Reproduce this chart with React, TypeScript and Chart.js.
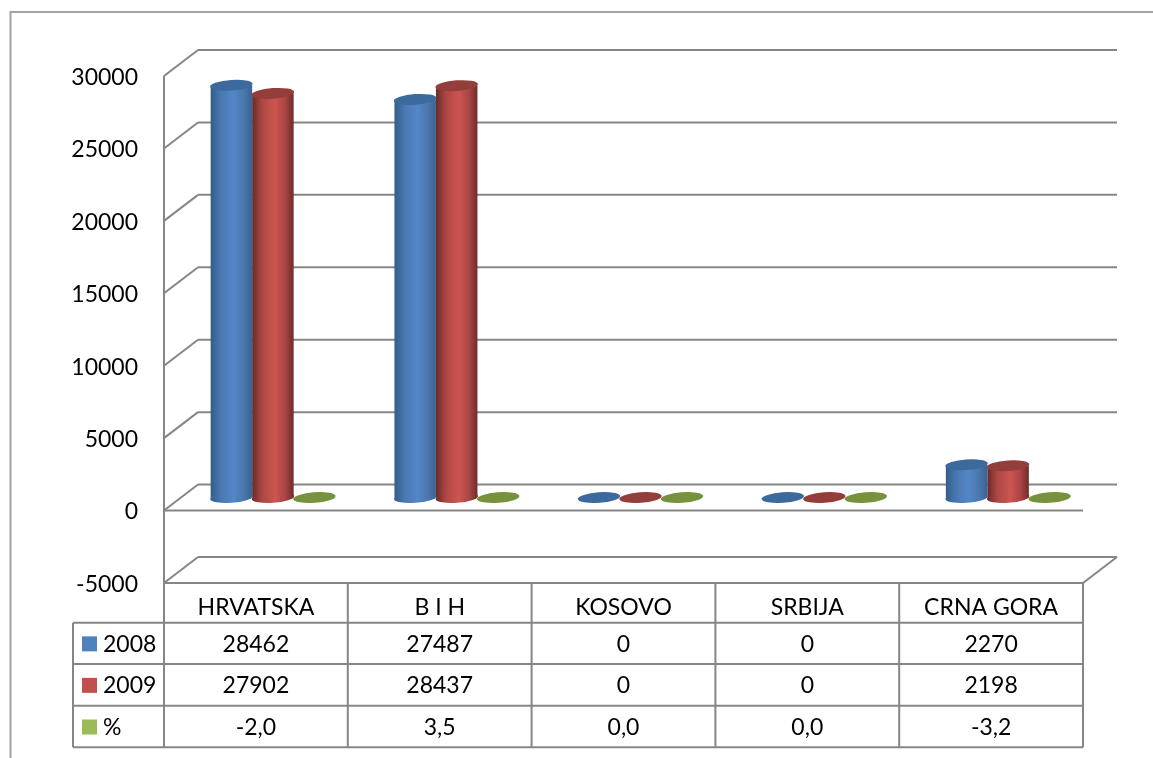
import React, { useEffect, useRef } from "react";
import { Chart, registerables } from "chart.js";

Chart.register(...registerables);

const categories = ["HRVATSKA", "B I H", "KOSOVO", "SRBIJA", "CRNA GORA"];
const values2008 = [28462, 27487, 0, 0, 2270];
const values2009 = [27902, 28437, 0, 0, 2198];
const valuesPct = [-2.0, 3.5, 0.0, 0.0, -3.2];
const seriesNames = ["2008", "2009", "%"];

const FONT = "Lato";
const TEXT_SIZE = 23;
const LINE = "#868686";
const DEPTH_X = 34;
const DEPTH_Y = -26;
const BAR_W = 41.5;

const swatch = ["#4f81bd", "#c0504d", "#9bbb59"];
const topColor = ["#3d6a9c", "#943e3b", "#76923c"];
const bodyStops: [number, string][][] = [
  [[0, "#335c8b"], [0.25, "#4a78b0"], [0.55, "#5487c8"], [0.8, "#4a76ad"], [1, "#3a6392"]],
  [[0, "#6b2a28"], [0.25, "#ae4845"], [0.55, "#cd5551"], [0.8, "#a84543"], [1, "#6e2c2a"]],
  [[0, "#5c7330"], [0.25, "#86a74c"], [0.55, "#9fc05c"], [0.8, "#86a74c"], [1, "#5c7330"]],
];

function bodyGradient(ctx: CanvasRenderingContext2D, x0: number, x1: number, series: number) {
  const g = ctx.createLinearGradient(x0, 0, x1, 0);
  bodyStops[series].forEach(([o, c]) => g.addColorStop(o, c));
  return g;
}

function line(ctx: CanvasRenderingContext2D, x0: number, y0: number, x1: number, y1: number) {
  ctx.beginPath();
  ctx.moveTo(x0, y0);
  ctx.lineTo(x1, y1);
  ctx.stroke();
}

const cylinderPlugin = {
  id: "cylinder3d",
  beforeDraw(chart: any) {
    const { ctx, width, height, chartArea, scales } = chart;
    const { left, right, bottom } = chartArea;
    const y = scales.y;
    ctx.save();
    ctx.fillStyle = "#ffffff";
    ctx.fillRect(0, 0, width, height);
    // outer chart frame
    ctx.strokeStyle = "#a3a3a3";
    ctx.lineWidth = 2;
    ctx.beginPath();
    ctx.moveTo(10.5, height);
    ctx.lineTo(10.5, 12);
    ctx.lineTo(width, 12);
    ctx.stroke();
    // walls and grid
    ctx.strokeStyle = LINE;
    ctx.lineWidth = 2;
    y.ticks.forEach((t: any) => {
      const py = y.getPixelForValue(t.value);
      line(ctx, left, py, left + DEPTH_X, py + DEPTH_Y);
      line(ctx, left + DEPTH_X, py + DEPTH_Y, right + DEPTH_X, py + DEPTH_Y);
    });
    line(ctx, left, y.getPixelForValue(30000), left, bottom);
    const zero = y.getPixelForValue(0);
    line(ctx, left, zero, right, zero);
    line(ctx, left, bottom, right, bottom);
    line(ctx, right, bottom, right + DEPTH_X, bottom + DEPTH_Y);
    ctx.restore();
  },
  beforeDatasetDraw(chart: any) {
    chart.ctx.save();
    chart.ctx.translate(DEPTH_X / 2, DEPTH_Y / 2);
  },
  afterDatasetDraw(chart: any) {
    chart.ctx.restore();
  },
  afterDatasetsDraw(chart: any) {
    const ctx = chart.ctx;
    const tilt = -0.07;
    ctx.save();
    ctx.translate(DEPTH_X / 2, DEPTH_Y / 2);
    for (let series = 0; series < 3; series++) {
      chart.getDatasetMeta(series).data.forEach((bar: any) => {
        const h = Math.abs(bar.base - bar.y);
        const rx = bar.width / 2 + 0.5;
        if (h > 2) {
          ctx.fillStyle = bodyGradient(ctx, bar.x - rx, bar.x + rx, series);
          ctx.beginPath();
          ctx.ellipse(bar.x, bar.base, rx, 5.3, tilt, 0, Math.PI * 2);
          ctx.fill();
        }
        ctx.fillStyle = topColor[series];
        ctx.beginPath();
        ctx.ellipse(bar.x, h > 2 ? bar.y : bar.base, rx, 5.3, tilt, 0, Math.PI * 2);
        ctx.fill();
      });
    }
    ctx.restore();
  },
  afterDraw(chart: any) {
    const { ctx, chartArea, scales } = chart;
    const { left, right, bottom } = chartArea;
    const x = scales.x;
    const catW = (right - left) / categories.length;
    const rows = [622.7, 664, 705.7, 747.3];
    const legendLeft = 73;
    ctx.save();
    ctx.strokeStyle = LINE;
    ctx.lineWidth = 2;
    rows.forEach((r) => line(ctx, legendLeft, r, right, r));
    line(ctx, legendLeft, rows[0], legendLeft, rows[3]);
    for (let i = 0; i <= categories.length; i++) {
      line(ctx, left + i * catW, bottom, left + i * catW, rows[3]);
    }
    ctx.font = `${TEXT_SIZE}px ${FONT}`;
    ctx.fillStyle = "#000000";
    ctx.textBaseline = "middle";
    const tableRows = [
      values2008.map(String),
      values2009.map(String),
      valuesPct.map((v) => v.toFixed(1).replace(".", ",")),
    ];
    tableRows.forEach((cells, r) => {
      const cy = (rows[r] + rows[r + 1]) / 2 + 1;
      ctx.fillStyle = swatch[r];
      ctx.fillRect(82, cy - 8, 15, 15);
      ctx.fillStyle = "#000000";
      ctx.textAlign = "left";
      ctx.fillText(seriesNames[r], 103, cy);
      ctx.textAlign = "center";
      cells.forEach((c, i) => ctx.fillText(c, x.getPixelForValue(i), cy));
    });
    ctx.restore();
  },
};

export default function App() {
  const ref = useRef<HTMLCanvasElement | null>(null);
  useEffect(() => {
    const canvas = ref.current;
    if (!canvas) return;
    const gradientFor = (series: number) => (c: any) => {
      const chart = c.chart;
      if (!chart.chartArea || !chart.scales.x) return swatch[series];
      const groupLeft = chart.scales.x.getPixelForValue(c.dataIndex) - (BAR_W * 3) / 2;
      const x0 = groupLeft + series * BAR_W;
      return bodyGradient(chart.ctx, x0, x0 + BAR_W, series);
    };
    const allSeries = [values2008, values2009, valuesPct];
    const chart = new Chart(canvas, {
      type: "bar",
      data: {
        labels: categories,
        datasets: allSeries.map((data, i) => ({
          label: seriesNames[i],
          data,
          clip: false as any,
          borderWidth: 0,
          backgroundColor: gradientFor(i),
        })),
      },
      options: {
        responsive: false,
        animation: false,
        devicePixelRatio: 1,
        layout: { padding: { top: 76, right: 70, left: 0, bottom: 0 } },
        plugins: { legend: { display: false }, title: { display: false }, tooltip: { enabled: false } },
        datasets: { bar: { categoryPercentage: (BAR_W * 3) / 183.8, barPercentage: 1 } },
        scales: {
          x: {
            grid: { display: false, drawTicks: false },
            border: { display: false },
            ticks: {
              font: { family: FONT, size: TEXT_SIZE },
              color: "#000000",
              padding: 11,
              maxRotation: 0,
              autoSkip: false,
            },
            afterFit: (s: any) => {
              s.height = 175;
            },
          },
          y: {
            min: -5000,
            max: 30000,
            grid: { display: false, drawTicks: false },
            border: { display: false },
            ticks: {
              stepSize: 5000,
              font: { family: FONT, size: TEXT_SIZE },
              color: "#000000",
              padding: 26,
              labelOffset: 1.5,
              callback: (v: any) => String(v),
            },
            afterFit: (s: any) => {
              s.width = 164;
            },
          },
        },
      } as any,
      plugins: [cylinderPlugin],
    });
    return () => chart.destroy();
  }, []);
  return (
    <canvas
      ref={ref}
      width={1153}
      height={758}
      style={{ position: "absolute", left: 0, top: 0, display: "block" }}
    />
  );
}
